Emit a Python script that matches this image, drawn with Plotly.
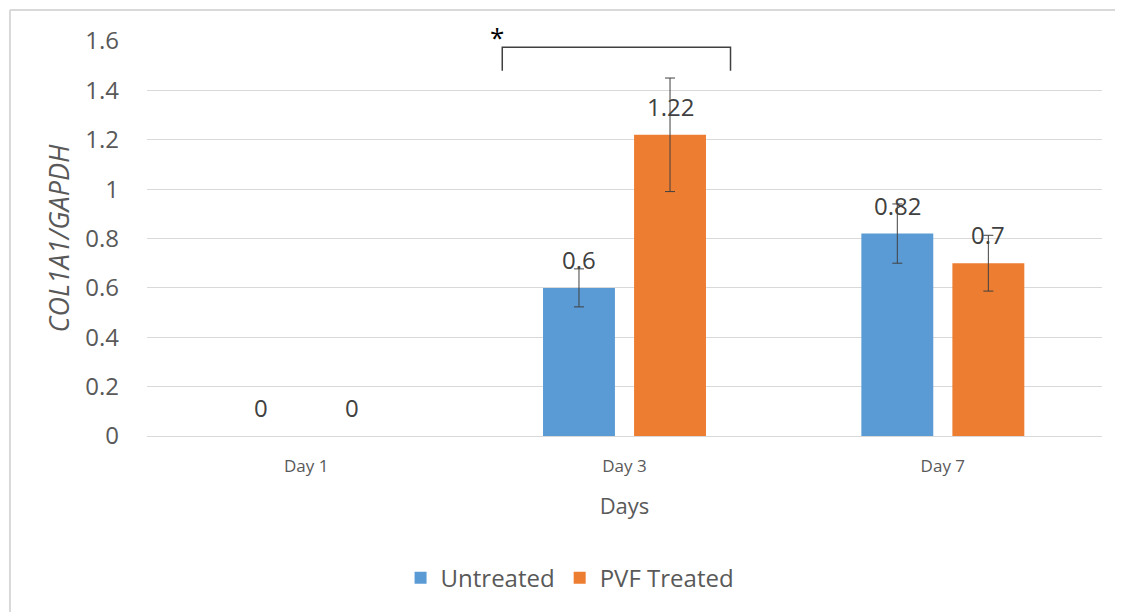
import plotly.graph_objects as go

categories = ["Day 1", "Day 3", "Day 7"]
untreated = [0, 0.6, 0.82]
untreated_err = [0, 0.077, 0.12]
pvf = [0, 1.22, 0.7]
pvf_err = [0, 0.23, 0.113]
yticks = [0, 0.2, 0.4, 0.6, 0.8, 1, 1.2, 1.4, 1.6]
bracket_x = [0.616, 1.333]
bracket_y = [1.48, 1.575]

FONT = "Open Sans"
LABEL = dict(size=24, color="#404040", family=FONT)


def drawn(vals):
    # zero-height bars are not drawn (no error bar cap at zero)
    return [v if v else None for v in vals]


fig = go.Figure()
fig.add_trace(go.Bar(
    name="Untreated", x=categories, y=drawn(untreated),
    marker=dict(color="#5B9BD5", line=dict(width=0)),
    error_y=dict(type="data", array=untreated_err, color="#404040", thickness=1, width=5),
))
fig.add_trace(go.Bar(
    name="PVF Treated", x=categories, y=drawn(pvf),
    marker=dict(color="#ED7D31", line=dict(width=0)),
    error_y=dict(type="data", array=pvf_err, color="#404040", thickness=1, width=5),
))

# value labels above bars
for vals, shift in ((untreated, -45.5), (pvf, 45.5)):
    for c, v in zip(categories, vals):
        fig.add_annotation(x=c, y=v, xref="x", yref="y", text=f"{v:g}", showarrow=False,
                           xshift=shift, yshift=10, yanchor="bottom", xanchor="center",
                           font=LABEL)

# significance bracket
x0, x1 = bracket_x
yb, yt = bracket_y
fig.add_shape(type="path", xref="x", yref="y",
              path=f"M {x0},{yb} L {x0},{yt} L {x1},{yt} L {x1},{yb}",
              line=dict(color="#404040", width=1.5))
fig.add_annotation(x=x0 - 0.015, y=yt, xref="x", yref="y", text="*", yshift=-10,
                   showarrow=False, font=dict(size=26, color="#000000", family=FONT),
                   xanchor="center", yanchor="bottom")

# outer frame (top and left edges)
fig.add_shape(type="line", xref="paper", yref="paper", x0=-0.1435, x1=1.05, y0=1.0785, y1=1.0785,
              line=dict(color="#d9d9d9", width=2))
fig.add_shape(type="line", xref="paper", yref="paper", x0=-0.1435, x1=-0.1435, y0=1.0785, y1=-0.5,
              line=dict(color="#d9d9d9", width=2))

fig.update_layout(
    width=1123, height=612,
    margin=dict(l=139, r=29, t=33, b=184),
    paper_bgcolor="white", plot_bgcolor="white",
    barmode="group", bargap=0.428, bargroupgap=0.21,
    font=dict(family=FONT, color="#595959"),
    legend=dict(orientation="h", x=0.443, xanchor="center", y=-0.36, yanchor="middle",
                font=dict(size=24, color="#595959"), itemwidth=30),
    xaxis=dict(showgrid=False, showline=False, ticks="", ticklabelstandoff=18,
               tickfont=dict(size=17, color="#595959"),
               title=dict(text="Days", font=dict(size=22, color="#595959"), standoff=22)),
    yaxis=dict(range=[0, 1.6], tickvals=yticks, ticktext=[f"{v:g}" for v in yticks],
               showgrid=True, gridcolor="#d9d9d9", gridwidth=1,
               zeroline=True, zerolinecolor="#d9d9d9", zerolinewidth=1,
               showline=False, ticks="", ticklabelstandoff=27,
               tickfont=dict(size=24, color="#595959"),
               title=dict(text="<i>COL1A1/GAPDH</i>", font=dict(size=27, color="#595959"), standoff=7)),
)
fig.write_html("out.html")
